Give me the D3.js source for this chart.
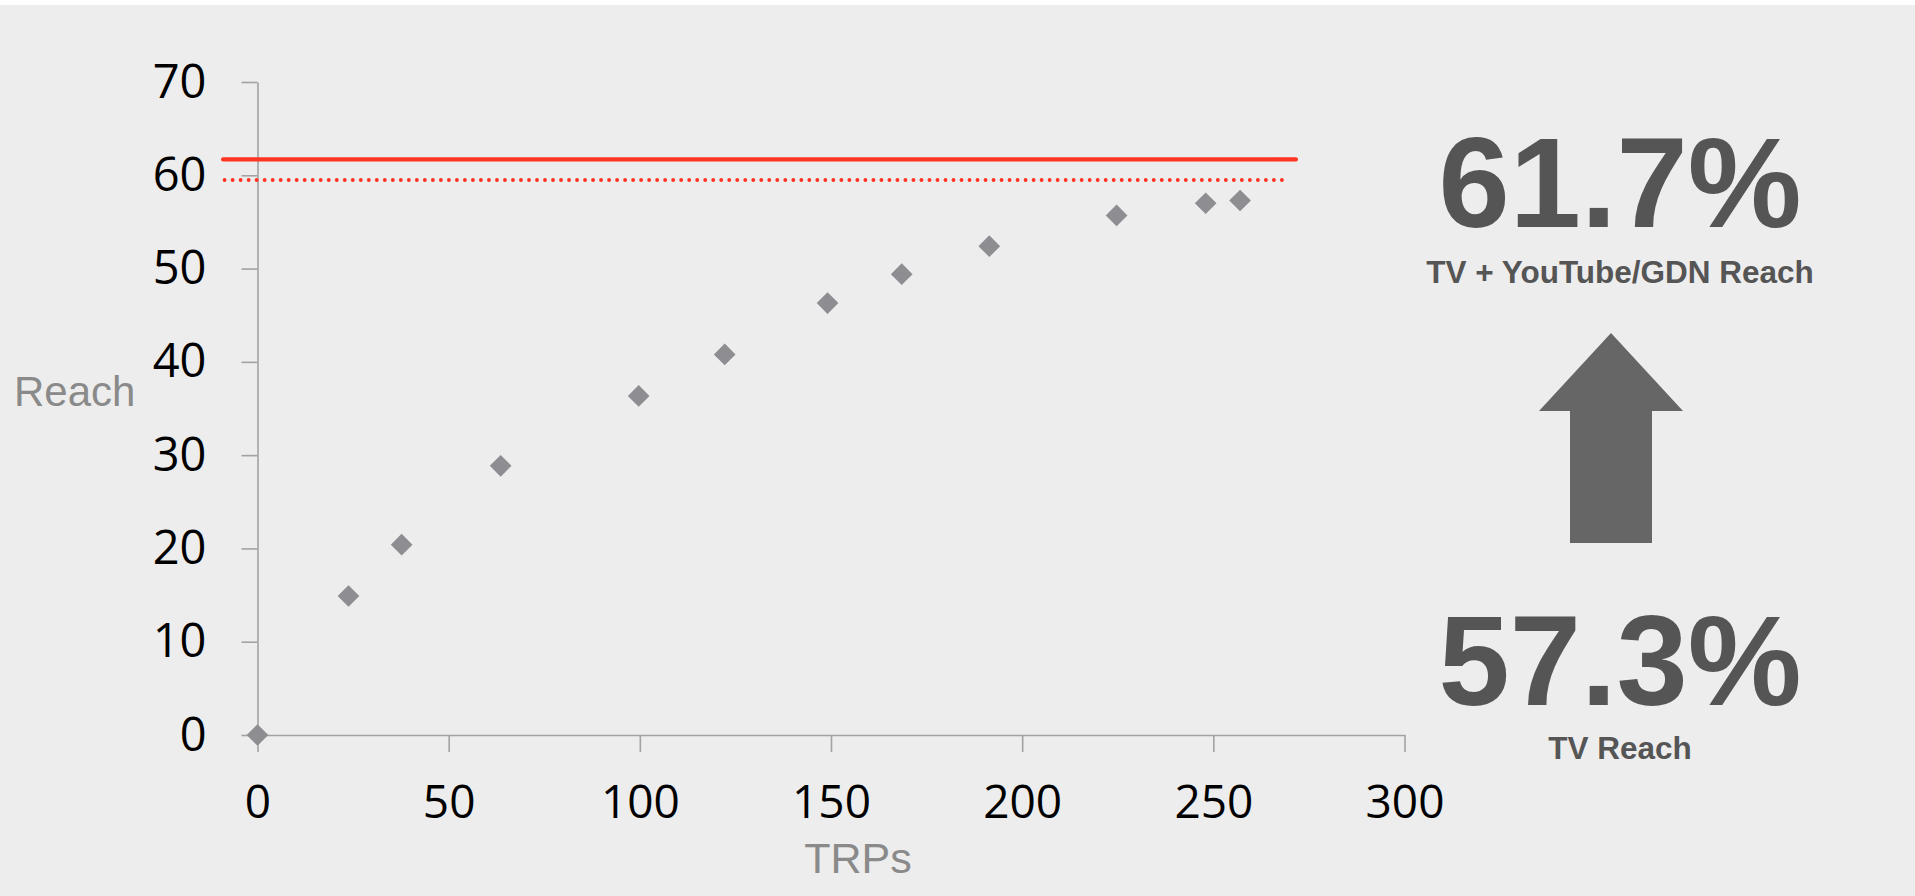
<!DOCTYPE html>
<html>
<head>
<meta charset="utf-8">
<script src="https://cdn.jsdelivr.net/npm/d3@7"></script>
<style>
  html, body { margin: 0; padding: 0; background: #ffffff; }
  svg { display: block; }
</style>
</head>
<body>
<svg id="chart" width="1915" height="896"></svg>
<script>
// Reach curve: TV reach (%) by TRPs
const trps  = [0, 23.8, 37.7, 63.6, 99.7, 122.2, 149.1, 168.5, 191.4, 224.7, 248.0, 257.0];
const reach = [0, 14.9, 20.4, 28.85, 36.35, 40.8, 46.3, 49.4, 52.4, 55.7, 57.0, 57.3];

// Reference levels
const combinedReach = 61.7;   // TV + YouTube/GDN
const tvReach = 57.3;         // TV alone (last point of the curve)
const dottedLevel = 59.5;
const levelSpan = [-9, 271.6];

const xTicks = [0, 50, 100, 150, 200, 250, 300];
const yTicks = [0, 10, 20, 30, 40, 50, 60, 70];

const svg = d3.select("#chart");

svg.append("rect")
  .attr("x", 0).attr("y", 5)
  .attr("width", 1915).attr("height", 891)
  .attr("fill", "#ededed");

const x = d3.scaleLinear().domain([0, 300]).range([257.5, 1404.5]);
const y = d3.scaleLinear().domain([0, 70]).range([735, 82]);

const axisColor = "#a2a2a2";
const tickFont = "'Open Sans', sans-serif";

// y axis
const gy = svg.append("g")
  .attr("transform", `translate(${x(0)},0)`)
  .call(d3.axisLeft(y).tickValues(yTicks).tickSize(16).tickSizeOuter(0).tickPadding(35));
gy.selectAll("text")
  .attr("font-family", tickFont).attr("font-size", 47).attr("fill", "#000");

// x axis
const gx = svg.append("g")
  .attr("transform", `translate(0,${y(0)})`)
  .call(d3.axisBottom(x).tickValues(xTicks).tickSize(17).tickSizeOuter(0).tickPadding(33));
gx.selectAll("text")
  .attr("font-family", tickFont).attr("font-size", 46).attr("fill", "#000");

[gx, gy].forEach(g => {
  g.select(".domain").attr("stroke", axisColor).attr("stroke-width", 1.6);
  g.selectAll(".tick line").attr("stroke", axisColor).attr("stroke-width", 1.6);
});

// axis titles
svg.append("text")
  .attr("x", 14).attr("y", 406)
  .attr("font-family", "'Liberation Sans', Arial, sans-serif")
  .attr("font-size", 42).attr("fill", "#8a8a8a")
  .text("Reach");

svg.append("text")
  .attr("x", 858).attr("y", 873)
  .attr("text-anchor", "middle")
  .attr("font-family", "'Liberation Sans', Arial, sans-serif")
  .attr("font-size", 43).attr("fill", "#8a8a8a")
  .text("TRPs");

// reference lines
svg.append("line")
  .attr("x1", x(levelSpan[0])).attr("x2", x(levelSpan[1]))
  .attr("y1", y(combinedReach)).attr("y2", y(combinedReach))
  .attr("stroke", "#ff3521").attr("stroke-width", 4.2)
  .attr("stroke-linecap", "round");

svg.append("line")
  .attr("x1", x(levelSpan[0]) + 1.5).attr("x2", x(levelSpan[1]) - 7)
  .attr("y1", y(dottedLevel)).attr("y2", y(dottedLevel))
  .attr("stroke", "#ff3521").attr("stroke-width", 3.9)
  .attr("stroke-linecap", "round")
  .attr("stroke-dasharray", "0.01 8");

// data points
const points = trps.map((t, i) => ({ t, r: reach[i] }));
const diamond = d3.symbol().type(d3.symbolSquare).size(235);
svg.append("g").selectAll("path")
  .data(points)
  .join("path")
  .attr("d", diamond)
  .attr("transform", d => `translate(${x(d.t)},${y(d.r)}) rotate(45)`)
  .attr("fill", "#8d8d92");

// summary panel
const cx = 1620;
const bold = "'Liberation Sans', Arial, sans-serif";
const panelColor = "#555555";

svg.append("text")
  .attr("x", cx).attr("y", 227)
  .attr("text-anchor", "middle")
  .attr("font-family", bold).attr("font-weight", "bold")
  .attr("font-size", 128).attr("fill", panelColor)
  .text(combinedReach.toFixed(1) + "%");

svg.append("text")
  .attr("x", cx).attr("y", 283)
  .attr("text-anchor", "middle")
  .attr("font-family", bold).attr("font-weight", "bold")
  .attr("font-size", 31.5).attr("fill", panelColor)
  .text("TV + YouTube/GDN Reach");

svg.append("path")
  .attr("d", d3.line()([
    [1611, 333], [1683, 411], [1652, 411], [1652, 543],
    [1570, 543], [1570, 411], [1539, 411]
  ]) + "Z")
  .attr("fill", "#666666");

svg.append("text")
  .attr("x", cx).attr("y", 705)
  .attr("text-anchor", "middle")
  .attr("font-family", bold).attr("font-weight", "bold")
  .attr("font-size", 128).attr("fill", panelColor)
  .text(tvReach.toFixed(1) + "%");

svg.append("text")
  .attr("x", cx).attr("y", 759)
  .attr("text-anchor", "middle")
  .attr("font-family", bold).attr("font-weight", "bold")
  .attr("font-size", 31.5).attr("fill", panelColor)
  .text("TV Reach");
</script>
</body>
</html>
